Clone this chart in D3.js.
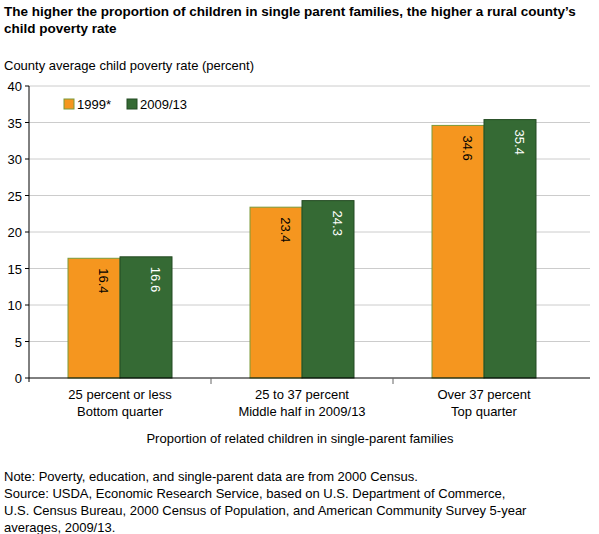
<!DOCTYPE html><html><head><meta charset="utf-8"><script src="https://cdn.jsdelivr.net/npm/d3@7"></script>
<style>body{margin:0;background:#fff}text{font-family:"Liberation Sans",Arial,sans-serif}</style></head><body><svg width="599" height="534"></svg>
<script>
const categories=[["25 percent or less","Bottom quarter"],["25 to 37 percent","Middle half in 2009/13"],["Over 37 percent","Top quarter"]];
const series=["1999*","2009/13"];
const v1999=[16.4,23.4,34.6];
const v2009=[16.6,24.3,35.4];
const yTicks=[0,5,10,15,20,25,30,35,40];
const colors=["#f5961f","#356a34"],strokes=["#7a9a3a","#234a22"];
const svg=d3.select("svg");
const x=d3.scaleBand().domain([0,1,2]).range([29,575]).padding(0);
const y=d3.scaleLinear().domain([0,40]).range([378,86]);
svg.append("text").attr("x",4).attr("y",16).attr("font-size",13.5).attr("font-weight","bold").text("The higher the proportion of children in single parent families, the higher a rural county’s");
svg.append("text").attr("x",4).attr("y",33).attr("font-size",13.5).attr("font-weight","bold").text("child poverty rate");
svg.append("text").attr("x",4).attr("y",70).attr("font-size",13).text("County average child poverty rate (percent)");
yTicks.forEach(t=>{
 if(t>0)svg.append("line").attr("x1",29).attr("x2",590).attr("y1",y(t)).attr("y2",y(t)).attr("stroke","#ccc");
 svg.append("text").attr("x",22).attr("y",y(t)+5).attr("text-anchor","end").attr("font-size",13).text(t);
 svg.append("line").attr("x1",25).attr("x2",29).attr("y1",y(t)).attr("y2",y(t)).attr("stroke","#000");
});
const bw=52;
[v1999,v2009].forEach((vals,s)=>{
 vals.forEach((v,i)=>{
  const cx=x(i)+x.bandwidth()/2, x0=cx+(s-1)*bw;
  svg.append("rect").attr("x",x0).attr("y",y(v)).attr("width",bw).attr("height",y(0)-y(v)).attr("fill",colors[s]).attr("stroke",strokes[s]);
  svg.append("text").attr("transform",`translate(${x0+bw/2+5},${y(v)+10}) rotate(90)`).attr("font-size",13).attr("fill",s?"#fff":"#000").text(v.toFixed(1));
 });
});
svg.append("line").attr("x1",29).attr("x2",29).attr("y1",86).attr("y2",382).attr("stroke","#000");
svg.append("line").attr("x1",29).attr("x2",590).attr("y1",378).attr("y2",378).attr("stroke","#000");
[1,2].forEach(i=>svg.append("line").attr("x1",x(i)).attr("x2",x(i)).attr("y1",378).attr("y2",384).attr("stroke","#666"));
categories.forEach((c,i)=>c.forEach((l,j)=>svg.append("text").attr("x",x(i)+x.bandwidth()/2).attr("y",399+j*17).attr("text-anchor","middle").attr("font-size",13).text(l)));
svg.append("text").attr("x",300).attr("y",443).attr("text-anchor","middle").attr("font-size",13).text("Proportion of related children in single-parent families");
const lx=[64,127];
series.forEach((s,i)=>{
 svg.append("rect").attr("x",lx[i]).attr("y",99).attr("width",10).attr("height",10).attr("fill",colors[i]).attr("stroke",strokes[i]);
 svg.append("text").attr("x",lx[i]+13).attr("y",109).attr("font-size",13).text(s);
});
["Note: Poverty, education, and single-parent data are from 2000 Census.","Source: USDA, Economic Research Service, based on U.S. Department of Commerce,","U.S. Census Bureau, 2000 Census of Population, and American Community Survey 5-year","averages, 2009/13."].forEach((t,i)=>svg.append("text").attr("x",4).attr("y",481+i*17).attr("font-size",13).text(t));
</script></body></html>
